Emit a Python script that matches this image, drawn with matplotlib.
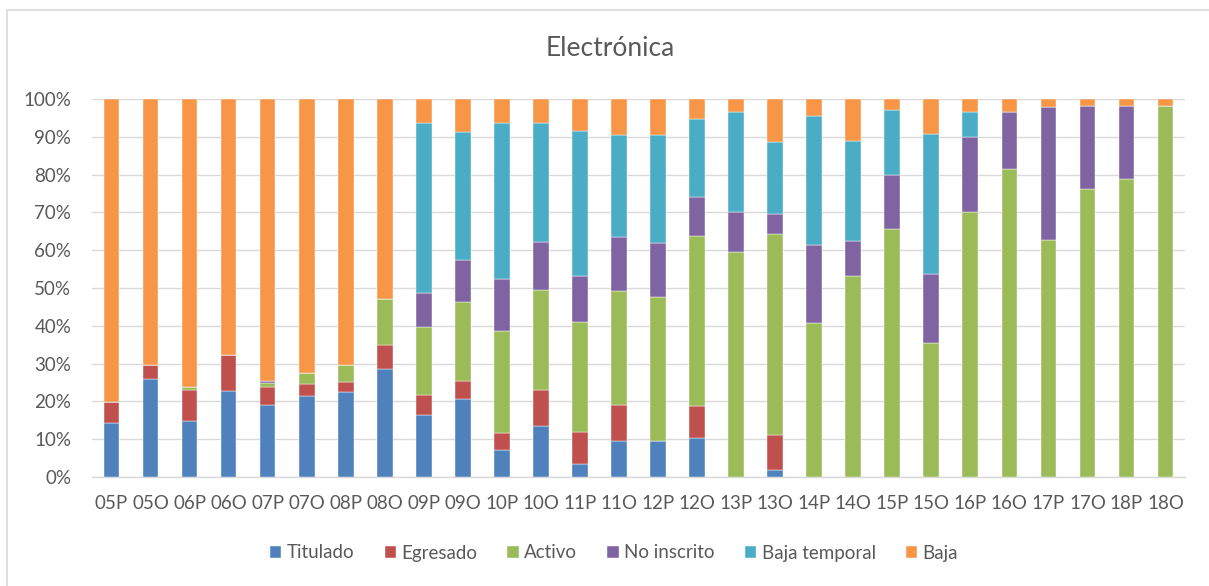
import matplotlib
matplotlib.use("Agg")
import matplotlib.pyplot as plt
import numpy as np
from matplotlib.patches import Rectangle

categories = ["05P", "05O", "06P", "06O", "07P", "07O", "08P", "08O", "09P", "09O",
              "10P", "10O", "11P", "11O", "12P", "12O", "13P", "13O", "14P", "14O",
              "15P", "15O", "16P", "16O", "17P", "17O", "18P", "18O"]

titulado = [14.3, 26.0, 14.9, 22.8, 19.0, 21.3, 22.5, 28.6, 16.5, 20.7,
            7.2, 13.6, 3.5, 9.4, 9.4, 10.2, 0, 1.8, 0, 0,
            0, 0, 0, 0, 0, 0, 0, 0]
egresado = [5.6, 3.7, 8.1, 9.5, 4.9, 3.3, 2.7, 6.2, 5.3, 4.7,
            4.5, 9.4, 8.5, 9.6, 0, 8.6, 0, 9.3, 0, 0,
            0, 0, 0, 0, 0, 0, 0, 0]
activo = [0, 0, 0.7, 0, 0.9, 2.8, 4.3, 12.2, 17.9, 20.8,
          27.0, 26.6, 29.1, 30.2, 38.2, 45.0, 59.6, 53.2, 40.8, 53.1,
          65.7, 35.4, 70.0, 81.4, 62.7, 76.3, 78.9, 98.2]
no_inscrito = [0, 0, 0, 0, 0.7, 0, 0, 0, 9.0, 11.3,
               13.6, 12.6, 12.2, 14.2, 14.3, 10.3, 10.6, 5.4, 20.5, 9.4,
               14.3, 18.4, 20.0, 15.2, 35.3, 21.9, 19.3, 0]
baja_temporal = [0, 0, 0, 0, 0, 0, 0, 0, 44.9, 33.8,
                 41.4, 31.4, 38.2, 27.1, 28.6, 20.7, 26.3, 19.0, 34.2, 26.5,
                 17.2, 37.0, 6.6, 0, 0, 0, 0, 0]
baja = [80.1, 70.3, 76.3, 67.7, 74.5, 72.6, 70.5, 53.0, 6.4, 8.7,
        6.3, 6.4, 8.5, 9.5, 9.5, 5.2, 3.5, 11.3, 4.5, 11.0,
        2.8, 9.2, 3.4, 3.4, 2.0, 1.8, 1.8, 1.8]

series_names = ["Titulado", "Egresado", "Activo", "No inscrito", "Baja temporal", "Baja"]
colors = ["#4F81BD", "#C0504D", "#9BBB59", "#8064A2", "#4BACC6", "#F79646"]

plt.rcParams['font.family'] = ['Lato', 'DejaVu Sans']
text_color = "#595959"

W, H = 1209, 586
fig = plt.figure(figsize=(W / 100, H / 100), dpi=100)
ax = fig.add_axes([92 / W, 1 - 477 / H, (1185 - 92) / W, (477 - 99) / H])

data = np.array([titulado, egresado, activo, no_inscrito, baja_temporal, baja])
totals = data.sum(axis=0)
data = data / totals * 100.0

x = np.arange(len(categories))
bottom = np.zeros(len(categories))
handles = []
for vals, name, col in zip(data, series_names, colors):
    b = ax.bar(x, vals, bottom=bottom, width=0.4, color=col, label=name,
               edgecolor="#ffffff", linewidth=0.3, zorder=3)
    handles.append(b)
    bottom += vals

ax.set_xlim(-0.5, len(categories) - 0.5)
ax.set_ylim(0, 100)
ax.set_yticks(np.arange(0, 101, 10))
ax.set_yticklabels([f"{v}%" for v in range(0, 101, 10)])
ax.set_xticks(x)
ax.set_xticklabels(categories)
ax.grid(axis='y', color="#D9D9D9", linewidth=1.0, zorder=0)
for s in ["top", "right", "left"]:
    ax.spines[s].set_visible(False)
ax.spines["bottom"].set_color("#D9D9D9")
ax.spines["bottom"].set_linewidth(1.0)
ax.tick_params(axis='y', length=0, pad=15, labelsize=13.5, labelcolor=text_color)
ax.tick_params(axis='x', length=0, pad=13, labelsize=13.5, labelcolor=text_color)

fig.text(610 / W, 1 - 48 / H, "Electrónica", ha='center', va='center',
         fontsize=19, color=text_color)

leg = fig.legend(handles=handles, labels=series_names, loc='center',
                 bbox_to_anchor=(614 / W, 1 - 553 / H), ncol=6, frameon=False,
                 handlelength=0.6, handleheight=0.6, handletextpad=0.3,
                 columnspacing=1.6, fontsize=13.5)
for t in leg.get_texts():
    t.set_color(text_color)

fig.patches.append(Rectangle((7 / W, -0.05), 1.2, 1 - 10 / H + 0.05,
                             transform=fig.transFigure, fill=False,
                             edgecolor="#D9D9D9", linewidth=1.2))

fig.savefig("out.png", dpi=100)
